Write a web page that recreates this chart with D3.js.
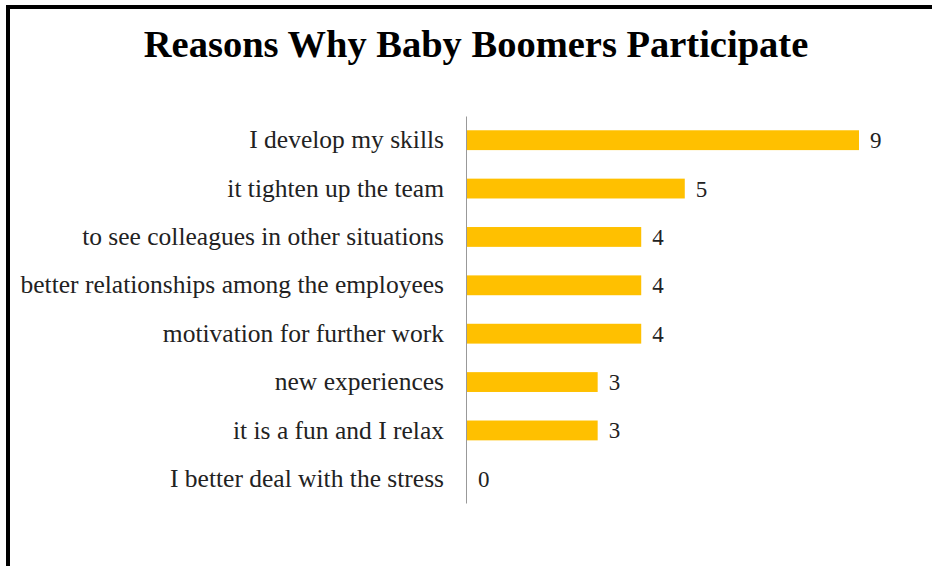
<!DOCTYPE html>
<html>
<head>
<meta charset="utf-8">
<script src="https://cdn.jsdelivr.net/npm/d3@7"></script>
<style>
  body { margin: 0; background: #fff; }
  svg text { font-family: "Liberation Serif", "Times New Roman", serif; }
</style>
</head>
<body>
<svg id="canvas"></svg>
<script>
// Chart size
const width = 932, height = 566;

// Data
const categories = [
    "I develop my skills",
    "it tighten up the team",
    "to see colleagues in other situations",
    "better relationships among the employees",
    "motivation for further work",
    "new experiences",
    "it is a fun and I relax",
    "I better deal with the stress"
];
const values = [9, 5, 4, 4, 4, 3, 3, 0];
const title = "Reasons Why Baby Boomers Participate";

const data = categories.map((c, i) => ({ name: c, value: values[i] }));

const svg = d3.select("#canvas")
    .attr("width", width)
    .attr("height", height);

// Frame (top and left borders only visible)
svg.append("path")
    .attr("d", "M8,566 V7 H932")
    .attr("fill", "none")
    .attr("stroke", "black")
    .attr("stroke-width", 4);

// Title
svg.append("text")
    .attr("x", 476)
    .attr("y", 57)
    .attr("text-anchor", "middle")
    .attr("font-size", 38.5)
    .attr("font-weight", "bold")
    .text(title);

// Scales
const x = d3.scaleLinear()
    .domain([0, 9])
    .range([467, 859]);

const y = d3.scaleBand()
    .domain(categories)
    .range([116, 503])
    .paddingInner(0.59)
    .paddingOuter(0.295);

// Bars
svg.selectAll("rect.bar")
    .data(data)
    .enter()
    .append("rect")
    .attr("class", "bar")
    .attr("x", x(0))
    .attr("y", d => y(d.name))
    .attr("width", d => x(d.value) - x(0))
    .attr("height", y.bandwidth())
    .attr("fill", "#FFC000");

// Value labels
svg.selectAll("text.value")
    .data(data)
    .enter()
    .append("text")
    .attr("class", "value")
    .attr("x", d => x(d.value) + 11)
    .attr("y", d => y(d.name) + y.bandwidth() / 2)
    .attr("dy", "0.35em")
    .attr("font-size", 23)
    .attr("fill", "#222")
    .text(d => d.value);

// Category axis
const axis = svg.append("g")
    .attr("transform", `translate(${x(0) - 1},0)`)
    .call(d3.axisLeft(y).tickSize(0).tickPadding(22));

axis.select(".domain")
    .attr("stroke", "#999")
    .attr("stroke-width", 1);

axis.selectAll("text")
    .attr("font-family", "Liberation Serif, Times New Roman, serif")
    .attr("font-size", 25.5)
    .attr("fill", "#222");
</script>
</body>
</html>
